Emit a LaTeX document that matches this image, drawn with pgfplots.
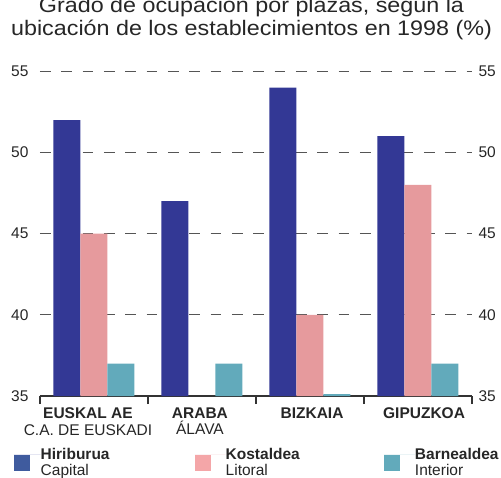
\documentclass[border=0pt]{standalone}
\usepackage{fontspec}
\setmainfont{Liberation Sans}
\usepackage{pgfplots}
\pgfplotsset{compat=1.18}
\definecolor{barblue}{HTML}{333895}
\definecolor{barpink}{HTML}{E69A9D}
\definecolor{barteal}{HTML}{62AABB}
\definecolor{legblue}{HTML}{3F5B9E}
\definecolor{legpink}{HTML}{F4A6A8}
\definecolor{legteal}{HTML}{62AABB}
\definecolor{gridgray}{HTML}{555555}
\definecolor{axisgray}{HTML}{333333}
\newcommand{\fs}{\fontsize{15.5}{16.7}\selectfont}
\begin{document}
\begin{tikzpicture}
\begin{axis}[
  scale only axis, width=432pt, height=324.7pt,
  xmin=-0.5, xmax=3.5, ymin=35, ymax=55,
  /pgf/number format/assume math mode=true,
  axis x line*=bottom, axis y line*=left,
  y axis line style={draw=none},
  x axis line style={axisgray, line width=1.2pt},
  ytick={35,40,45,50,55},
  ytick style={draw=none},
  yticklabel style={font=\fs, text=black!85},
  xtick={-0.5,0.5,1.5,2.5,3.5},
  xticklabels={},
  xtick style={axisgray, line width=1.2pt},
  tick align=outside, major tick length=8pt,
  ymajorgrids,
  grid style={gridgray, line width=1.3pt, dash pattern=on 10.7pt off 10.63pt},
  extra x ticks={-0.056,0.981,2.019,3.056},
  extra x tick labels={{\textbf{EUSKAL AE}\\C.A. DE EUSKADI},{\textbf{ARABA}\\ÁLAVA},{\textbf{BIZKAIA}},{\textbf{GIPUZKOA}}},
  extra x tick style={major tick length=0pt, xtick style={draw=none},
    xticklabel style={align=center, font=\fs, text=black!85, anchor=north, yshift=-8pt}},
  title={Grado de ocupación por plazas, según la\\ubicación de los establecimientos en 1998 (\%)},
  title style={align=center, font=\fontsize{21}{23}\selectfont, text=black!85, xscale=1.11, at={(0.4896,1)}, anchor=south, yshift=22pt},
  legend columns=3,
  legend cell align=left,
  legend style={draw=none, fill=none, inner sep=0pt, outer sep=0pt, column sep=0pt, row sep=0pt,
    at={(0,0)}, anchor=north west, xshift=-26pt, yshift=-52.5pt,
    nodes={inner sep=0pt, font=\fontsize{15.5}{15.5}\selectfont, text=black!85}},
]
\addplot[ybar, bar width=27pt, bar shift=-27pt, fill=barblue, draw=none,
  legend image code/.code={\fill[legblue] (0pt,-16pt) rectangle (16pt,0pt); \path (0pt,0pt) -- (26.7pt,0pt);}]
  coordinates {(0,52) (1,47) (2,54) (3,51)};
\addlegendentry[text width=154.3pt]{\textbf{Hiriburua}\\Capital}
\addplot[ybar, bar width=27pt, bar shift=0pt, fill=barpink, draw=none,
  legend image code/.code={\fill[legpink] (0pt,-16pt) rectangle (16pt,0pt); \path (0pt,0pt) -- (30.7pt,0pt);}]
  coordinates {(0,45) (2,40) (3,48)};
\addlegendentry[text width=158.3pt]{\textbf{Kostaldea}\\Litoral}
\addplot[ybar, bar width=27pt, bar shift=27pt, fill=barteal, draw=none,
  legend image code/.code={\fill[legteal] (0pt,-16pt) rectangle (16pt,0pt); \path (0pt,0pt) -- (31pt,0pt);}]
  coordinates {(0,37) (1,37) (2,35.12) (3,37)};
\addlegendentry[text width=90pt]{\textbf{Barnealdea}\\Interior}
\end{axis}
\begin{axis}[
  scale only axis, width=432pt, height=324.7pt,
  xmin=-0.5, xmax=3.5, ymin=35, ymax=55,
  /pgf/number format/assume math mode=true,
  hide x axis, axis y line*=right,
  y axis line style={draw=none},
  ytick={35,40,45,50,55},
  ytick style={draw=none},
  yticklabel style={font=\fs, text=black!85, xshift=3pt},
]
\end{axis}
\pgfresetboundingbox
\path[use as bounding box] (-40pt,-81pt) rectangle (461pt,396pt);
\end{tikzpicture}
\end{document}
